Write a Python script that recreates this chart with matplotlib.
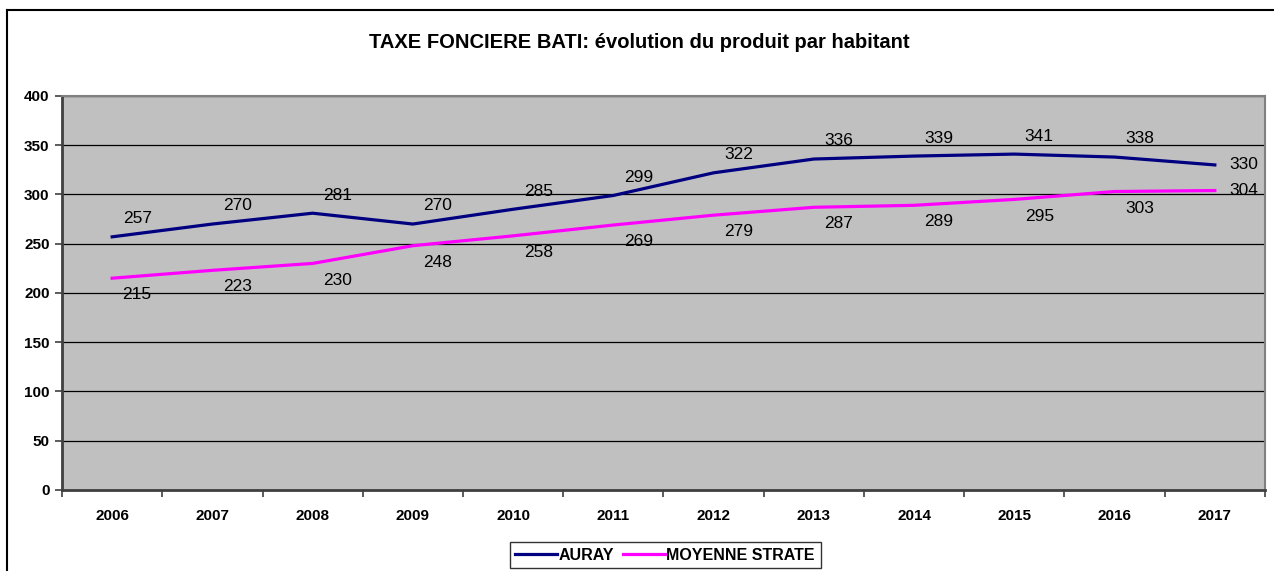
import numpy as np
import matplotlib.pyplot as plt
from matplotlib.lines import Line2D

years = ['2006', '2007', '2008', '2009', '2010', '2011',
         '2012', '2013', '2014', '2015', '2016', '2017']
auray = [257, 270, 281, 270, 285, 299, 322, 336, 339, 341, 338, 330]
moyenne_strate = [215, 223, 230, 248, 258, 269, 279, 287, 289, 295, 303, 304]
yticks = [0, 50, 100, 150, 200, 250, 300, 350, 400]

plt.rcParams['font.family'] = ['Liberation Sans', 'DejaVu Sans']

fig = plt.figure(figsize=(12.74, 5.71), dpi=100)
ax = fig.add_axes([0.0487, 0.1419, 0.9442, 0.69])
ax.set_facecolor('#c0c0c0')

x = np.arange(len(years))
ax.plot(x, auray, color='#000080', lw=2.3, label='AURAY', zorder=3)
ax.plot(x, moyenne_strate, color='#ff00ff', lw=2.3, label='MOYENNE STRATE', zorder=3)

# data labels: AURAY above, MOYENNE STRATE below, last point to the right
last = len(years) - 1
for i, v in enumerate(auray):
    off = (21, 0) if i == last else (18, 13)
    ax.annotate(str(v), (x[i], v), xytext=off, textcoords='offset points',
                ha='center', va='center', fontsize=12.5)
for i, v in enumerate(moyenne_strate):
    off = (21, 0) if i == last else (18, -12)
    ax.annotate(str(v), (x[i], v), xytext=off, textcoords='offset points',
                ha='center', va='center', fontsize=12.5)

ax.set_ylim(0, 400)
ax.set_yticks(yticks)
ax.yaxis.grid(True, color='black', lw=0.9)
ax.set_axisbelow(True)

ax.set_xlim(-0.5, len(years) - 0.5)
ax.set_xticks(np.arange(-0.5, len(years), 1.0))
ax.set_xticklabels([])
ax.set_xticks(x, minor=True)
ax.set_xticklabels(years, minor=True)
ax.tick_params(axis='x', which='minor', length=0, pad=14)
ax.tick_params(axis='x', which='major', length=5, width=1.2, color='#404040')
ax.tick_params(axis='y', length=5, width=1.2, color='#404040', pad=4)
for lab in ax.get_xticklabels(minor=True) + ax.get_yticklabels():
    lab.set_fontweight('bold')
    lab.set_fontsize(11)

for side in ('left', 'bottom'):
    ax.spines[side].set_color('#404040')
    ax.spines[side].set_linewidth(2.0)
for side in ('top', 'right'):
    ax.spines[side].set_color('#808080')
    ax.spines[side].set_linewidth(1.5)

fig.text(0.502, 0.926, 'TAXE FONCIERE BATI: évolution du produit par habitant',
         ha='center', va='center', fontsize=14.5, fontweight='bold')

# outer chart frame
fig.add_artist(Line2D([7 / 1274, 7 / 1274], [0, 1 - 10 / 571],
                      transform=fig.transFigure, color='black', lw=1.5))
fig.add_artist(Line2D([7 / 1274, 1], [1 - 10 / 571, 1 - 10 / 571],
                      transform=fig.transFigure, color='black', lw=1.5))

leg = fig.legend(loc='upper center', bbox_to_anchor=(0.522, 1 - 542 / 571),
                 ncol=2, frameon=True, fancybox=False, edgecolor='black',
                 fontsize=11.5, handlelength=2.6, handletextpad=0.1,
                 columnspacing=0.6, borderpad=0.35, borderaxespad=0)
leg.get_frame().set_linewidth(1.0)
for t in leg.get_texts():
    t.set_fontweight('bold')

fig.savefig('out.png', dpi=100)
